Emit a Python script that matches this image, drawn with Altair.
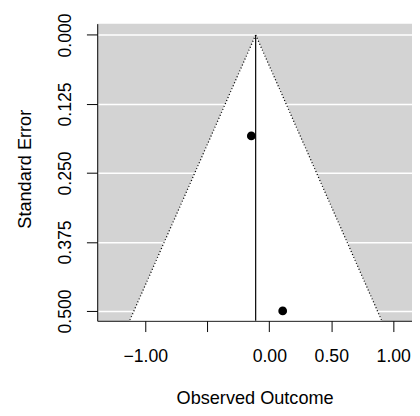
import altair as alt
import pandas as pd

# observed outcomes and standard errors
obs_x = [-0.145, 0.108]
obs_se = [0.183, 0.500]

# pooled estimate (vertical reference line)
est = -0.11

# funnel edges (apex at se = 0, base at bottom of plot)
funnel_se = [0.0, 0.5178]
funnel_lo = [-0.11, -1.127]
funnel_hi = [-0.11, 0.907]

x_ticks = [-1.0, -0.5, 0.0, 0.5, 1.0]
y_ticks = [0.0, 0.125, 0.25, 0.375, 0.5]
x_domain = [-1.388, 1.151]
y_domain = [-0.0204, 0.5178]

W, H = 321, 303
FONT = "Liberation Sans"
FS = 18

pts = pd.DataFrame({"x": obs_x, "se": obs_se})
fun = pd.DataFrame({"se": funnel_se, "lo": funnel_lo, "hi": funnel_hi})
ref = pd.DataFrame({"x": [est], "y0": [funnel_se[0]], "y1": [y_domain[1]]})

xscale = alt.Scale(domain=x_domain, nice=False, zero=False)
yscale = alt.Scale(domain=y_domain, nice=False, zero=False, reverse=True)

xaxis = alt.Axis(
    values=x_ticks,
    labelExpr="datum.value == -0.5 ? '' : format(datum.value, '.2f')",
    grid=False,
    title="Observed Outcome",
    titleX=160.5,
    titleY=84.5,
    titleAlign="center",
    titleBaseline="alphabetic",
    titleFontSize=18.5,
    labelBaseline="alphabetic",
    labelPadding=31,
    labelFlush=False,
)
yaxis = alt.Axis(
    values=y_ticks,
    format=".3f",
    grid=True,
    gridColor="white",
    gridWidth=1.5,
    labelAngle=270,
    labelAlign="center",
    labelBaseline="alphabetic",
    labelPadding=16,
    title="Standard Error",
    titleAngle=270,
    titleX=-68,
    titleY=148,
    titleAlign="center",
    titleBaseline="alphabetic",
    titleFontSize=18.5,
)

area = alt.Chart(fun).mark_area(orient="horizontal", color="white", clip=True).encode(
    y=alt.Y("se:Q", scale=yscale, axis=yaxis),
    x=alt.X("lo:Q", scale=xscale, axis=xaxis),
    x2="hi:Q",
)

edge_lo = alt.Chart(fun).mark_line(color="black", strokeWidth=1.3, strokeDash=[1, 2.3], clip=True).encode(
    y=alt.Y("se:Q", scale=yscale),
    x=alt.X("lo:Q", scale=xscale),
    order="se:Q",
)
edge_hi = alt.Chart(fun).mark_line(color="black", strokeWidth=1.3, strokeDash=[1, 2.3], clip=True).encode(
    y=alt.Y("se:Q", scale=yscale),
    x=alt.X("hi:Q", scale=xscale),
    order="se:Q",
)

rule = alt.Chart(ref).mark_rule(color="black", strokeWidth=1.2).encode(
    x=alt.X("x:Q", scale=xscale),
    y=alt.Y("y0:Q", scale=yscale),
    y2="y1:Q",
)

points = alt.Chart(pts).mark_circle(color="black", opacity=1, size=80).encode(
    x=alt.X("x:Q", scale=xscale),
    y=alt.Y("se:Q", scale=yscale),
)

chart = (
    alt.layer(area, edge_lo, edge_hi, rule, points)
    .properties(
        width=W,
        height=H,
        autosize="none",
        padding={"left": 91, "top": 12, "right": 0, "bottom": 85},
    )
    .configure(font=FONT)
    .configure_view(fill="#d3d3d3", stroke=None)
    .configure_axis(
        domainColor="black",
        domainWidth=1,
        tickColor="black",
        tickWidth=1,
        tickSize=11,
        labelFont=FONT,
        labelFontSize=FS,
        labelColor="black",
        titleFont=FONT,
        titleFontSize=FS,
        titleFontWeight="normal",
        titleColor="black",
    )
)

chart.save("out.html", embed_options={"renderer": "svg", "actions": False})
